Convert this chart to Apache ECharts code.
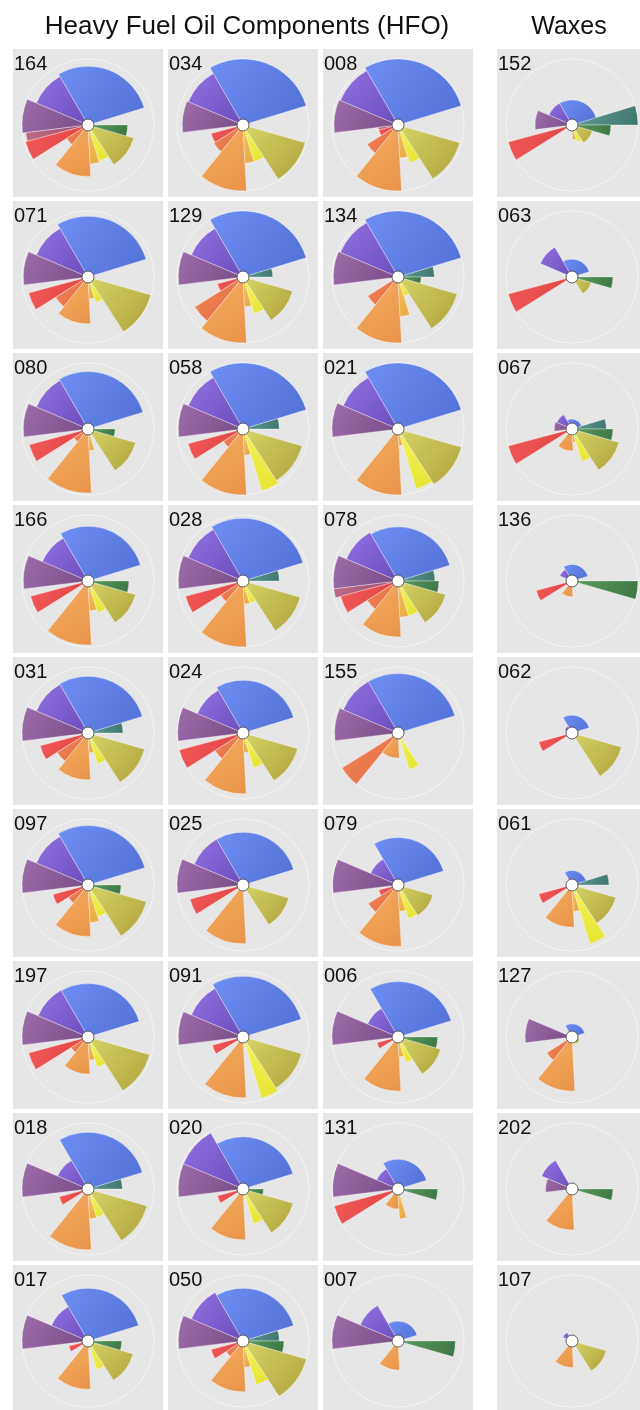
<!DOCTYPE html>
<html>
<head>
<meta charset="utf-8">
<script src="https://cdn.jsdelivr.net/npm/echarts@6/dist/echarts.min.js"></script>
<style>
  html, body { margin: 0; padding: 0; background: #ffffff; }
  #chart { width: 640px; height: 1410px; }
</style>
</head>
<body>
<div id="chart"></div>
<script>
// Column headings
const groupTitles = ['Heavy Fuel Oil Components (HFO)', 'Waxes'];

// Compound classes, counter-clockwise from the 3 o'clock direction,
// with the angular span (degrees) each class occupies in every rose.
const classNames = ['teal', 'blue', 'violet', 'purple', 'rose', 'red',
                    'orangeRed', 'orange', 'lightOrange', 'yellow', 'olive', 'green'];
const classSpans = [17, 103, 37, 30, 8, 17, 19, 42, 14, 16, 41, 16];

// Relative abundance of each class per sample (1 = outer ring)
const s164 = [0, .89, .85, 1.0, .95, .98, .38, .78, .59, .57, .72, .60];
const s034 = [0, 1.0, .90, .92, 0, .50, .52, 1.0, .58, .58, .98, 0];
const s008 = [0, 1.0, .95, .97, .30, .30, .55, 1.0, .50, .60, .97, 0];
const s152 = [1.0, .38, .38, .56, 0, 1.0, 0, 0, .22, .27, .32, .59];
const s071 = [0, .92, .85, .98, 0, .93, .58, .71, .33, .40, .99, 0];
const s129 = [.45, 1.0, .85, .98, 0, .40, .86, 1.0, .45, .58, .78, 0];
const s134 = [.55, 1.0, .95, .98, 0, 0, .54, 1.0, .60, .30, .93, .35];
const s063 = [0, .27, .52, 0, 0, 1.0, 0, 0, 0, 0, .30, .62];
const s080 = [0, .87, .85, .98, 0, .92, .25, .97, .33, 0, .75, .41];
const s058 = [.55, 1.0, .90, .98, 0, .86, .35, 1.0, .40, .98, .93, 0];
const s021 = [0, 1.0, .90, 1.0, 0, 0, 0, 1.0, .25, .95, 1.0, 0];
const s067 = [.52, .15, .25, .27, 0, 1.0, 0, .33, .20, .51, .74, .62];
const s166 = [0, .83, .75, .98, 0, .90, 0, .97, .45, .50, .75, .62];
const s028 = [.55, .95, .90, .98, 0, .90, .40, 1.0, .35, .35, .90, 0];
const s078 = [.56, .82, .85, .98, .98, .90, .55, .85, .55, .55, .75, .62];
const s136 = [0, .25, .20, 0, 0, .56, 0, .24, 0, 0, 0, 1.0];
const s031 = [.53, .86, .85, 1.0, 0, .75, .55, .71, .30, .49, .89, 0];
const s024 = [0, .80, .75, .99, 0, 1.0, .50, .92, .30, .55, .86, 0];
const s155 = [0, .90, .90, .96, 0, 0, 1.0, .38, 0, .58, 0, 0];
const s062 = [0, .27, .12, 0, 0, .52, 0, 0, 0, 0, .78, 0];
const s097 = [0, .90, .85, 1.0, 0, .55, .35, .78, .57, .50, .92, .50];
const s025 = [0, .80, .80, 1.0, 0, .83, 0, .89, 0, 0, .72, 0];
const s079 = [0, .72, .45, .99, 0, .30, .53, .93, .40, .53, .55, 0];
const s061 = [.56, .22, 0, 0, 0, .52, 0, .64, .40, .93, .69, 0];
const s197 = [0, .81, .82, 1.0, 0, .93, .30, .56, .35, .48, .97, 0];
const s091 = [0, .92, .85, .98, 0, .48, 0, .92, 0, .97, .92, 0];
const s006 = [0, .84, .50, 1.0, 0, .33, 0, .82, .30, .40, .67, .60];
const s127 = [0, .20, 0, .71, 0, 0, .45, .82, 0, .12, .12, 0];
const s018 = [.52, .86, .50, 1.0, 0, .45, 0, .92, .45, .45, .93, 0];
const s020 = [0, .79, .98, .98, 0, .40, 0, .77, 0, .55, .79, .31];
const s131 = [0, .45, .35, .99, 0, 1.0, 0, .30, .45, 0, 0, .60];
const s202 = [0, 0, .50, .40, 0, 0, 0, .62, 0, 0, 0, .62];
const s017 = [0, .80, .60, 1.0, 0, .30, 0, .73, 0, .45, .71, .51];
const s050 = [.55, .80, .85, .98, 0, .50, .30, .77, .40, .69, 1.0, .62];
const s007 = [0, .30, .62, 1.0, 0, 0, 0, .44, 0, 0, 0, .87];
const s107 = [0, 0, .15, 0, 0, 0, 0, .40, 0, 0, .54, 0];

// Grid of samples: three HFO columns, then the wax column
const sampleRows = [
  [['164', s164], ['034', s034], ['008', s008], ['152', s152]],
  [['071', s071], ['129', s129], ['134', s134], ['063', s063]],
  [['080', s080], ['058', s058], ['021', s021], ['067', s067]],
  [['166', s166], ['028', s028], ['078', s078], ['136', s136]],
  [['031', s031], ['024', s024], ['155', s155], ['062', s062]],
  [['097', s097], ['025', s025], ['079', s079], ['061', s061]],
  [['197', s197], ['091', s091], ['006', s006], ['127', s127]],
  [['018', s018], ['020', s020], ['131', s131], ['202', s202]],
  [['017', s017], ['050', s050], ['007', s007], ['107', s107]]
];

// Styling: light/dark ends of each class colour
const classColors = [
  ['#5f9d94', '#3f776f'],  // teal
  ['#6d8ef2', '#5270d6'],  // blue
  ['#9170e2', '#6a4fbb'],  // violet
  ['#9e6dab', '#774c86'],  // purple
  ['#c06c88', '#9a4c6a'],  // rose
  ['#f25a58', '#df4242'],  // red
  ['#f2885a', '#e26c40'],  // orange-red
  ['#f4ad5e', '#e8944a'],  // orange
  ['#f6c45e', '#e8aa44'],  // light orange
  ['#f4f45a', '#e4e432'],  // yellow
  ['#d6d468', '#aea43c'],  // olive
  ['#5c9c60', '#3d7644']   // green
];

const colLeft = [13, 168, 323, 497];
const rowTop0 = 49, rowPitch = 152;
const panelW = 150, panelH = 148;
const ringR = 66;
const fontFamily = '"Liberation Sans", Arial, sans-serif';

// Angular start of each class
const classStart = [];
let acc = 0;
classSpans.forEach(function (w) { classStart.push(acc); acc += w; });

const fills = classColors.map(function (c) {
  return new echarts.graphic.LinearGradient(0, 0, 1, 1, [
    { offset: 0, color: c[0] }, { offset: 1, color: c[1] }
  ]);
});

function renderSector(params, api) {
  const v = api.value(0);
  if (!(v > 0)) return null;
  const ci = api.value(3);
  const pA = api.coord([v, api.value(1)]);
  const pB = api.coord([v, api.value(2)]);
  return {
    type: 'sector',
    shape: {
      cx: params.coordSys.cx, cy: params.coordSys.cy,
      r0: 0, r: pB[2],
      startAngle: -pB[3], endAngle: -pA[3], clockwise: true
    },
    style: { fill: fills[ci], stroke: 'rgba(255,255,255,0.55)', lineWidth: 0.6 }
  };
}

const option = {
  backgroundColor: '#ffffff',
  animation: false,
  polar: [], angleAxis: [], radiusAxis: [], series: [],
  graphic: { elements: [] }
};

const g = option.graphic.elements;
g.push({ type: 'text', x: 247, y: 27, z: 50, silent: true,
  style: { text: groupTitles[0], x: 0, y: 0, align: 'center', verticalAlign: 'middle',
           font: '26px ' + fontFamily, fill: '#111' } });
g.push({ type: 'text', x: 569, y: 27, z: 50, silent: true,
  style: { text: groupTitles[1], x: 0, y: 0, align: 'center', verticalAlign: 'middle',
           font: '25px ' + fontFamily, fill: '#111' } });

let k = 0;
sampleRows.forEach(function (row, ri) {
  row.forEach(function (cell, ci) {
    const left = colLeft[ci];
    const top = rowTop0 + ri * rowPitch;
    const cx = left + panelW / 2;
    const cy = top + 76;

    g.push({ type: 'rect', z: -5, silent: true,
      shape: { x: left, y: top, width: panelW, height: panelH },
      style: { fill: '#e6e6e6' } });
    g.push({ type: 'text', z: 50, silent: true, x: left + 1, y: top + 5,
      style: { text: cell[0], font: '20px ' + fontFamily,
               fill: '#111', verticalAlign: 'top' } });
    g.push({ type: 'circle', z: 100, silent: true,
      shape: { cx: cx, cy: cy, r: 6 },
      style: { fill: '#ffffff', stroke: '#3a3a3a', lineWidth: 0.8 } });

    option.polar.push({ center: [cx, cy], radius: ringR });
    option.angleAxis.push({
      polarIndex: k, type: 'value', min: 0, max: 360, startAngle: 0, clockwise: false,
      axisLine: { show: true, lineStyle: { color: 'rgba(255,255,255,0.55)', width: 1 } },
      axisTick: { show: false }, axisLabel: { show: false }, splitLine: { show: false }
    });
    option.radiusAxis.push({
      polarIndex: k, type: 'value', min: 0, max: 1,
      axisLine: { show: false }, axisTick: { show: false },
      axisLabel: { show: false }, splitLine: { show: false }
    });
    option.series.push({
      type: 'custom', coordinateSystem: 'polar', polarIndex: k, silent: true,
      dimensions: ['amount', 'from', 'to', 'cls'],
      encode: { radius: 'amount', angle: 'from' },
      data: cell[1].map(function (v, i) {
        return [v, classStart[i], classStart[i] + classSpans[i], i];
      }),
      renderItem: renderSector
    });
    k++;
  });
});

const chart = echarts.init(document.getElementById('chart'), null, { renderer: 'canvas' });
chart.setOption(option);
</script>
</body>
</html>
